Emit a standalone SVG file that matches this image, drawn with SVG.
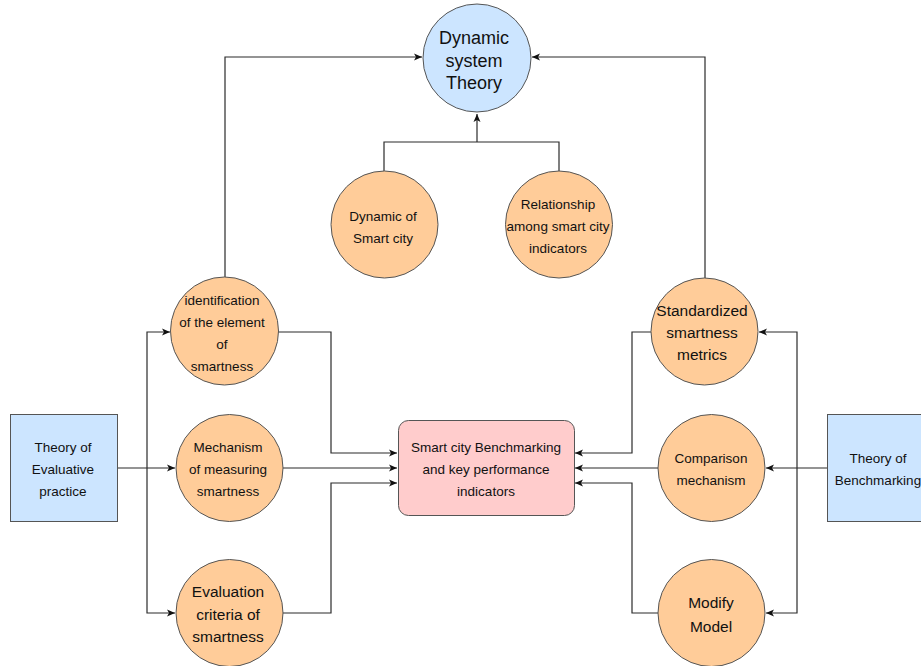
<svg xmlns="http://www.w3.org/2000/svg" width="921" height="666" viewBox="0 0 921 666">
  <style>
    .bg { fill: #ffffff; }
    .edge { fill: none; stroke: #2b2b2b; stroke-width: 1.2; }
    .orange { fill: #ffcc99; stroke: #555555; stroke-width: 1; }
    .blue { fill: #cce5ff; stroke: #555555; stroke-width: 1; }
    .pink { fill: #ffcccc; stroke: #555555; stroke-width: 1; }
    text { font-family: "Liberation Sans", Arial, Helvetica, sans-serif; fill: #111111; text-anchor: middle; }
    .s { font-size: 13.5px; }
    .m { font-size: 15.5px; }
    .l { font-size: 18px; }
  </style>
  <defs>
    <marker id="arrow" viewBox="0 0 8 8" refX="8" refY="4" markerWidth="8" markerHeight="8" markerUnits="userSpaceOnUse" orient="auto">
      <path d="M0,0.5 L8,4 L0,7.5 L2,4 Z" fill="#111111"/>
    </marker>
  </defs>
  <rect class="bg" x="0" y="0" width="921" height="666"/>

  <!-- connectors -->
  <g id="connectors">
    <!-- into Dynamic system Theory -->
    <path class="edge" d="M225,277 V57 H422" marker-end="url(#arrow)"/>
    <path class="edge" d="M705,278 V57 H532" marker-end="url(#arrow)"/>
    <path class="edge" d="M384,171 V142 H559 V171"/>
    <path class="edge" d="M477,142 V114" marker-end="url(#arrow)"/>
    <!-- Theory of Evaluative practice fan-out -->
    <path class="edge" d="M117,468 H175" marker-end="url(#arrow)"/>
    <path class="edge" d="M147,468 V332 H170" marker-end="url(#arrow)"/>
    <path class="edge" d="M147,468 V613 H175" marker-end="url(#arrow)"/>
    <!-- left circles into benchmarking box -->
    <path class="edge" d="M278,332 H331 V453 H397" marker-end="url(#arrow)"/>
    <path class="edge" d="M283,468 H397" marker-end="url(#arrow)"/>
    <path class="edge" d="M283,613 H331 V483 H397" marker-end="url(#arrow)"/>
    <!-- Theory of Benchmarking fan-out -->
    <path class="edge" d="M827,468 H766" marker-end="url(#arrow)"/>
    <path class="edge" d="M797,468 V332 H759" marker-end="url(#arrow)"/>
    <path class="edge" d="M797,468 V613 H766" marker-end="url(#arrow)"/>
    <!-- right circles into benchmarking box -->
    <path class="edge" d="M651,332 H632 V453 H575" marker-end="url(#arrow)"/>
    <path class="edge" d="M658,468 H575" marker-end="url(#arrow)"/>
    <path class="edge" d="M658,613 H632 V483 H575" marker-end="url(#arrow)"/>
  </g>

  <g id="dynamic-system-theory">
    <circle class="blue" cx="477" cy="58" r="54"/>
    <text class="l" x="474" y="44">Dynamic</text>
    <text class="l" x="474" y="67">system</text>
    <text class="l" x="474" y="89">Theory</text>
  </g>

  <g id="dynamic-of-smart-city">
    <circle class="orange" cx="384.5" cy="224.5" r="53.5"/>
    <text class="s" x="383" y="221">Dynamic of</text>
    <text class="s" x="383" y="243">Smart city</text>
  </g>

  <g id="relationship-indicators">
    <circle class="orange" cx="559" cy="224.5" r="53.5"/>
    <text class="s" x="558" y="209">Relationship</text>
    <text class="s" x="558" y="231">among smart city</text>
    <text class="s" x="558" y="253">indicators</text>
  </g>

  <g id="identification-element">
    <circle class="orange" cx="224.5" cy="331" r="54"/>
    <text class="s" x="222" y="305">identification</text>
    <text class="s" x="222" y="327">of the element</text>
    <text class="s" x="222" y="349">of</text>
    <text class="s" x="222" y="371">smartness</text>
  </g>

  <g id="mechanism-measuring">
    <circle class="orange" cx="229.5" cy="468" r="53.5"/>
    <text class="s" x="228" y="452">Mechanism</text>
    <text class="s" x="228" y="474">of measuring</text>
    <text class="s" x="228" y="496">smartness</text>
  </g>

  <g id="evaluation-criteria">
    <circle class="orange" cx="229.5" cy="613" r="53.5"/>
    <text class="m" x="228" y="597">Evaluation</text>
    <text class="m" x="228" y="620">criteria of</text>
    <text class="m" x="228" y="642">smartness</text>
  </g>

  <g id="theory-evaluative-practice">
    <rect class="blue" x="10.5" y="414.5" width="107" height="107"/>
    <text class="s" x="63" y="452">Theory of</text>
    <text class="s" x="63" y="474">Evaluative</text>
    <text class="s" x="63" y="496">practice</text>
  </g>

  <g id="benchmarking-kpi">
    <rect class="pink" x="398.5" y="420.5" width="176" height="95" rx="10" ry="10"/>
    <text class="s" x="486" y="452">Smart city Benchmarking</text>
    <text class="s" x="486" y="474">and key performance</text>
    <text class="s" x="486" y="496">indicators</text>
  </g>

  <g id="standardized-metrics">
    <circle class="orange" cx="704.5" cy="331.5" r="53.5"/>
    <text class="m" x="702" y="316">Standardized</text>
    <text class="m" x="702" y="338">smartness</text>
    <text class="m" x="702" y="360">metrics</text>
  </g>

  <g id="comparison-mechanism">
    <circle class="orange" cx="711.5" cy="468" r="53.5"/>
    <text class="s" x="711" y="463">Comparison</text>
    <text class="s" x="711" y="485">mechanism</text>
  </g>

  <g id="modify-model">
    <circle class="orange" cx="711.5" cy="613" r="53.5"/>
    <text class="m" x="711" y="608">Modify</text>
    <text class="m" x="711" y="632">Model</text>
  </g>

  <g id="theory-benchmarking">
    <rect class="blue" x="827.5" y="414.5" width="102" height="107"/>
    <text class="s" x="878" y="463">Theory of</text>
    <text class="s" x="878" y="485">Benchmarking</text>
  </g>
</svg>
